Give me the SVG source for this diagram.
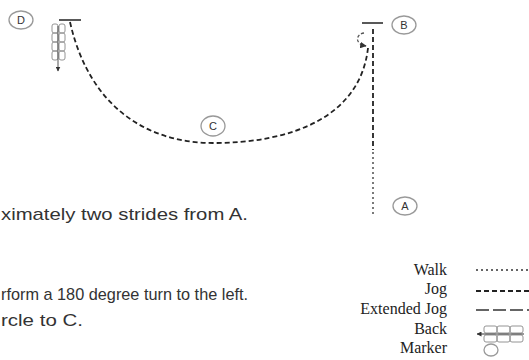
<svg xmlns="http://www.w3.org/2000/svg" width="529" height="360" viewBox="0 0 529 360">
<defs>
<style>
.bg{fill:#fff}
.walk{fill:none;stroke:#333;stroke-width:1.3;stroke-dasharray:2 3}
.jog{fill:none;stroke:#222;stroke-width:1.8;stroke-dasharray:5 3}
.ext{fill:none;stroke:#333;stroke-width:1.5;stroke-dasharray:13 4}
.bar{stroke:#222;stroke-width:1.5}
.mk{fill:none;stroke:#999;stroke-width:1.3}
.mt{font-family:"Liberation Sans",Arial,sans-serif;font-size:11px;fill:#333;text-anchor:middle}
.body{font-family:"Liberation Sans",Arial,sans-serif;font-size:17px;fill:#333}
.leg{font-family:"Liberation Serif","Times New Roman",serif;font-size:16px;fill:#222;text-anchor:end}
.loop{fill:none;stroke:#888;stroke-width:0.9}
.hook{fill:none;stroke:#555;stroke-width:1.3;stroke-dasharray:3 2}
</style>
<marker id="ah" viewBox="0 0 10 10" refX="9" refY="5" markerWidth="5" markerHeight="5" orient="auto">
<path d="M0,0 L10,5 L0,10 z" fill="#333"/>
</marker>
</defs>
<rect class="bg" x="0" y="0" width="529" height="360"/>

<g id="connectors">
<path class="jog" d="M70,22 C90,110 150,143 213,143 C290,143 360,118 368,48"/>
<path class="hook" d="M364,33 C356,34 354,44 366,46" marker-end="url(#ah)"/>
<path class="jog" d="M373,29 L373,150"/>
<path class="walk" d="M373,152 L373,215"/>
</g>

<g id="back-d">
<rect class="loop" x="52" y="24" width="6" height="9" rx="2"/>
<rect class="loop" x="52" y="33" width="6" height="9" rx="2"/>
<rect class="loop" x="52" y="42" width="6" height="9" rx="2"/>
<rect class="loop" x="52" y="51" width="6" height="9" rx="2"/>
<rect class="loop" x="59" y="24" width="6" height="9" rx="2"/>
<rect class="loop" x="59" y="33" width="6" height="9" rx="2"/>
<rect class="loop" x="59" y="42" width="6" height="9" rx="2"/>
<rect class="loop" x="59" y="51" width="6" height="9" rx="2"/>
<line x1="58" y1="26" x2="58" y2="71" stroke="#555" stroke-width="1" marker-end="url(#ah)"/>
</g>

<g id="node-D">
<ellipse class="mk" cx="21" cy="20" rx="12" ry="9"/>
<text class="mt" x="21" y="24">D</text>
<line class="bar" x1="59" y1="20" x2="81" y2="20"/>
</g>

<g id="node-B">
<ellipse class="mk" cx="404" cy="25" rx="12" ry="9"/>
<text class="mt" x="404" y="29">B</text>
<line class="bar" x1="362" y1="23" x2="383" y2="23"/>
</g>

<g id="node-C">
<ellipse class="mk" cx="213" cy="126" rx="12" ry="10"/>
<text class="mt" x="213" y="130">C</text>
</g>

<g id="node-A">
<ellipse class="mk" cx="405" cy="206" rx="12" ry="9"/>
<text class="mt" x="405" y="210">A</text>
</g>

<g id="text">
<text class="body" x="1" y="220" textLength="247" lengthAdjust="spacingAndGlyphs">ximately two strides from A.</text>
<text class="body" x="1" y="300" textLength="247" lengthAdjust="spacingAndGlyphs">rform a 180 degree turn to the left.</text>
<text class="body" x="1" y="326" textLength="82" lengthAdjust="spacingAndGlyphs">rcle to C.</text>
</g>

<g id="legend">
<text class="leg" x="447" y="275">Walk</text>
<text class="leg" x="447" y="294">Jog</text>
<text class="leg" x="447" y="314">Extended Jog</text>
<text class="leg" x="447" y="334">Back</text>
<text class="leg" x="447" y="353">Marker</text>
<line class="walk" x1="476" y1="270" x2="529" y2="270"/>
<line class="jog" x1="476" y1="291" x2="529" y2="291"/>
<line class="ext" x1="476" y1="310" x2="529" y2="310"/>
<g id="legend-back">
<rect class="loop" x="484" y="326" width="13" height="7" rx="2"/>
<rect class="loop" x="497" y="326" width="13" height="7" rx="2"/>
<rect class="loop" x="510" y="326" width="13" height="7" rx="2"/>
<rect class="loop" x="484" y="335" width="13" height="7" rx="2"/>
<rect class="loop" x="497" y="335" width="13" height="7" rx="2"/>
<rect class="loop" x="510" y="335" width="13" height="7" rx="2"/>
<line x1="524" y1="334" x2="477" y2="334" stroke="#333" stroke-width="1" marker-end="url(#ah)"/>
</g>
<ellipse class="mk" cx="491" cy="350" rx="7" ry="6"/>
</g>
</svg>
